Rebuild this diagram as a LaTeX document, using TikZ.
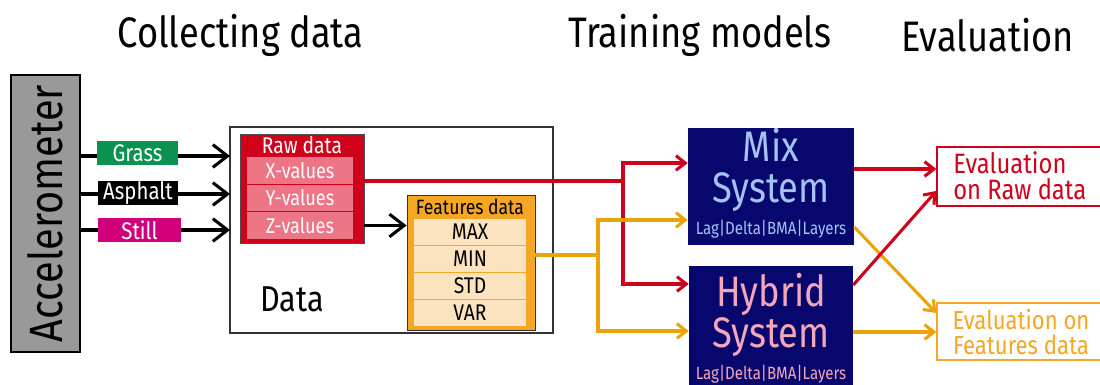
\documentclass[tikz,border=0pt]{standalone}
\usepackage{fontspec}
\setmainfont{Fira Sans}[FakeStretch=0.85]
\usetikzlibrary{arrows.meta,fit,positioning}
\definecolor{cred}{HTML}{D0021B}
\definecolor{cpink}{HTML}{EE7585}
\definecolor{corange}{HTML}{F5A623}
\definecolor{cline}{HTML}{EBA30A}
\definecolor{clight}{HTML}{FCE3C0}
\definecolor{cnavy}{HTML}{07076E}
\definecolor{cblue}{HTML}{A4C2F4}
\definecolor{crose}{HTML}{F4A7B9}
\definecolor{cgreen}{HTML}{0B9150}
\definecolor{cmag}{HTML}{D1007A}
\definecolor{cgray}{HTML}{999999}
\newcommand{\fs}[1]{\fontsize{#1}{#1}\selectfont}
\tikzset{
  box/.style={inner sep=0pt, rectangle},
  txt/.style={inner sep=0pt},
  title/.style={font=\fs{32pt}, inner sep=0pt},
  blk/.style={line width=2.3pt, -{Straight Barb[length=11pt,width=17pt,line width=2.3pt]}},
  col/.style={line width=2.3pt, -{Straight Barb[length=7pt,width=11pt,line width=2.3pt]}},
  tag/.style={box},
  tagtxt/.style={txt, text=white, font=\fs{18pt}},
  rawrow/.style={box, fill=cpink},
  rawtxt/.style={txt, text=white, font=\fs{16pt}},
  featrow/.style={box, fill=clight},
  feattxt/.style={txt, text=black, font=\fs{17pt}},
  sysbox/.style={box, fill=cnavy},
  bigtxt/.style={txt, align=center, font=\fontsize{32pt}{30.5pt}\selectfont},
  lagtxt/.style={txt, font=\fs{13.3pt}},
  evtxt/.style={txt, font=\fontsize{21pt}{19.5pt}\selectfont},
}
\begin{document}
\begin{tikzpicture}[x=0.75pt,y=-0.75pt]
\useasboundingbox (0,0) rectangle (1100,385);
% titles
\node[title] (t1) at (240.5,35) {Collecting data};
\node[title] (t2) at (700,35) {Training models};
\node[title] (t3) at (987.5,35) {Evaluation};
% accelerometer
\node[box, draw=black, fill=cgray, line width=1pt, fit={(11,75) (80,352)}] (acc) {};
\node[txt, rotate=90, font=\fs{35pt}] (acct) at (acc.center) {Accelerometer};
% data box
\node[box, draw=black!80, line width=0.8pt, fit={(230,127) (553,333)}] (data) {};
\node[txt, font=\fs{27pt}] (datalbl) at (292,299) {Data};
% raw data
\node[box, fill=cred, draw=black!70, line width=0.6pt, fit={(240,134) (364,243)}] (raw) {};
\node[txt, text=white, font=\fs{17pt}] (rawt) at (302,145) {Raw data};
\node[rawrow, fit={(247,157) (353,184)}] (rx) {};
\node[rawrow, fit={(247,185) (353,211)}] (ry) {};
\node[rawrow, fit={(247,212) (353,239)}] (rz) {};
\node[rawtxt] (rxt) at (rx.center) {X-values};
\node[rawtxt] (ryt) at (ry.center) {Y-values};
\node[rawtxt] (rzt) at (rz.center) {Z-values};
% features
\node[box, fill=corange, draw=black!80, line width=0.6pt, fit={(407,195) (535,330)}] (feat) {};
\node[txt, font=\fs{15.5pt}] (featt) at (470,207) {Features data};
\node[featrow, fit={(414,219) (526,245)}] (f1) {};
\node[featrow, fit={(414,246) (526,272)}] (f2) {};
\node[featrow, fit={(414,273) (526,299)}] (f3) {};
\node[featrow, fit={(414,300) (526,326)}] (f4) {};
\draw[corange, line width=0.8pt] (f1.south west) -- (f1.south east)
  (f2.south west) -- (f2.south east) (f3.south west) -- (f3.south east);
\node[feattxt] (f1t) at (f1.center) {MAX};
\node[feattxt] (f2t) at (f2.center) {MIN};
\node[feattxt] (f3t) at (f3.center) {STD};
\node[feattxt] (f4t) at (f4.center) {VAR};
% input arrows
\coordinate (a1) at (80,156); \coordinate (b1) at (230,156);
\coordinate (a2) at (80,194); \coordinate (b2) at (230,194);
\coordinate (a3) at (80,230); \coordinate (b3) at (230,230);
\draw[blk] (a1) -- (b1);
\draw[blk] (a2) -- (b2);
\draw[blk] (a3) -- (b3);
\node[tag, fill=cgreen, fit={(97,141) (178,165)}] (grass) {};
\node[tag, fill=black, fit={(98,181) (178,205)}] (asph) {};
\node[tag, fill=cmag, fit={(98,218) (181,242)}] (still) {};
\node[tagtxt] (grasst) at (grass.center) {Grass};
\node[tagtxt] (asplt) at (asph.center) {Asphalt};
\node[tagtxt] (stillt) at (still.center) {Still};
% z to features
\draw[blk] (raw.east |- rz.center) -- (feat.west |- rz.center);
% systems
\node[sysbox, fit={(688,128) (854,245)}] (mix) {};
\node[bigtxt, text=cblue] (mixt) at (771,170) {Mix\\System};
\node[lagtxt, text=cblue] (mix3) at (771,229) {Lag|Delta|BMA|Layers};
\node[sysbox, fit={(689,266) (853,390)}] (hyb) {};
\node[bigtxt, text=crose] (hybt) at (771,315) {Hybrid\\System};
\node[lagtxt, text=crose] (hyb3) at (771,374) {Lag|Delta|BMA|Layers};
% evaluations
\node[box, draw=cred, fill=white, line width=1pt, fit={(937,147) (1105,206)}] (evr) {};
\node[evtxt, text=cred, align=left, anchor=west] (evrt) at (953,176) {Evaluation\\on Raw data};
\node[box, draw=corange, fill=white, line width=1pt, fit={(937,303) (1105,360)}] (evf) {};
\node[evtxt, text=corange, align=center, font=\fontsize{19.5pt}{18.5pt}\selectfont] (evft) at (1021,332) {Evaluation on\\Features data};
% red routing
\coordinate (rj) at (623,181);
\draw[cred, line width=2.3pt] (raw.east |- rj) -- (rj);
\draw[cred, col] (rj) |- (mix.west |- 0,163);
\draw[cred, col] (rj) |- (hyb.west |- 0,284);
% orange routing
\coordinate (oj) at (598,255);
\draw[cline, line width=2.3pt] (feat.east |- oj) -- (oj);
\draw[cline, col] (oj) |- (mix.west |- 0,220);
\draw[cline, col] (oj) |- (hyb.west |- 0,331);
% to evaluation
\draw[cline, col] (mix.east |- 0,227) -- (evf.west |- 0,313);
\draw[cred, col] (mix.east |- 0,169) -- (evr.west |- 0,169);
\draw[cred, col] (hyb.east |- 0,285) -- (evr.west |- 0,191);
\draw[cline, col] (hyb.east |- 0,332) -- (evf.west |- 0,332);
\end{tikzpicture}
\end{document}
